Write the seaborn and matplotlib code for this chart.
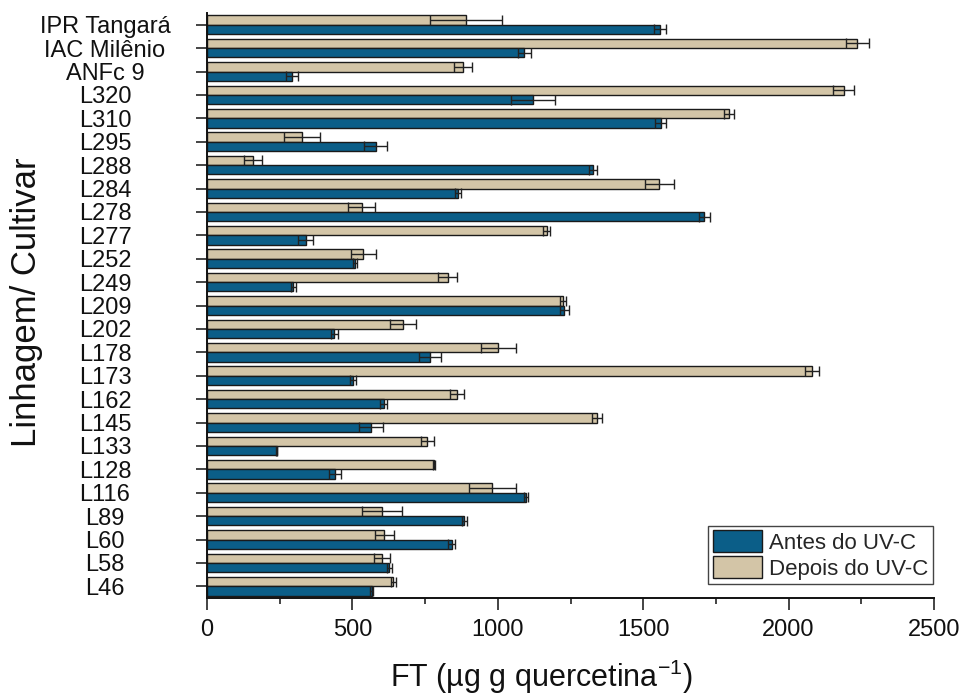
import matplotlib
matplotlib.use('Agg')
import matplotlib.pyplot as plt
import seaborn as sns
import pandas as pd
from matplotlib.ticker import MultipleLocator
from matplotlib.patches import Patch

# ---------------- data ----------------
categories = ['IPR Tangará', 'IAC Milênio', 'ANFc 9', 'L320', 'L310', 'L295', 'L288',
              'L284', 'L278', 'L277', 'L252', 'L249', 'L209', 'L202', 'L178', 'L173',
              'L162', 'L145', 'L133', 'L128', 'L116', 'L89', 'L60', 'L58', 'L46']
antes = [1558, 1091, 293, 1122, 1560, 580, 1326, 863, 1710, 340, 509, 297, 1229,
         438, 767, 501, 607, 564, 240, 440, 1096, 885, 841, 627, 566]
antes_sd = [20, 23, 21, 76, 18, 39, 14, 10, 18, 26, 7, 9, 16, 11, 37, 10, 13, 42,
            2, 21, 7, 8, 13, 9, 5]
depois = [891, 2236, 879, 2189, 1796, 328, 159, 1556, 532, 1168, 538, 828, 1225,
          675, 1002, 2082, 860, 1341, 758, 781, 981, 602, 610, 602, 641]
depois_sd = [125, 40, 31, 37, 17, 62, 31, 49, 46, 13, 44, 33, 10, 44, 60, 24, 23,
             17, 23, 4, 81, 70, 33, 27, 8]
series_names = ['Antes do UV-C', 'Depois do UV-C']
x_ticks = [0, 500, 1000, 1500, 2000, 2500]

ANT, DEP = series_names
blue = '#0b5e88'
tan = '#d3c5a7'

df = pd.DataFrame({
    'Linhagem': categories * 2,
    'FT': antes + depois,
    'Tratamento': [ANT] * len(categories) + [DEP] * len(categories),
})

# ---------------- style ----------------
sns.set_style('ticks')
plt.rcParams['font.family'] = ['Liberation Sans', 'DejaVu Sans']
plt.rcParams['mathtext.fontset'] = 'custom'
plt.rcParams['mathtext.rm'] = 'Liberation Sans'
plt.rcParams['mathtext.it'] = 'Liberation Sans:italic'
plt.rcParams['mathtext.bf'] = 'Liberation Sans:bold'

W, H = 963, 700
fig = plt.figure(figsize=(W / 100, H / 100), dpi=100)
ax = fig.add_axes([207 / W, 1 - 598 / H, 727 / W, 585 / H])

sns.barplot(data=df, y='Linhagem', x='FT', hue='Tratamento',
            hue_order=[DEP, ANT], order=categories,
            palette={ANT: blue, DEP: tan}, saturation=1, width=0.8,
            edgecolor='#1a1a1a', linewidth=1.0, errorbar=None,
            orient='h', legend=False, ax=ax)

# error bars placed on the bars drawn by seaborn
for cont, sds in zip(ax.containers, [depois_sd, antes_sd]):
    xs = [b.get_width() for b in cont]
    ys = [b.get_y() + b.get_height() / 2 for b in cont]
    ax.errorbar(xs, ys, xerr=sds, fmt='none', ecolor='#222222',
                elinewidth=1.0, capsize=3.4, capthick=1.0, zorder=3)

ax.set_xlim(0, 2500)
ax.set_ylim(len(categories) - 0.5, -0.5)
ax.set_xticks(x_ticks)
ax.set_xticklabels([str(t) for t in x_ticks])
ax.xaxis.set_minor_locator(MultipleLocator(250))

sns.despine(ax=ax)
for s in ['left', 'bottom']:
    ax.spines[s].set_linewidth(1.4)
    ax.spines[s].set_color('#111111')

ax.tick_params(axis='x', which='major', length=8.6, width=1.1, labelsize=17,
               pad=6.5, direction='out', colors='#111111')
ax.tick_params(axis='x', which='minor', length=4.3, width=1.1, direction='out',
               colors='#111111')
ax.tick_params(axis='y', which='major', length=7.9, width=1.1, labelsize=17,
               pad=65.5, direction='out', colors='#111111')
for lab in ax.get_yticklabels():
    lab.set_ha('center')

ax.set_ylabel('Linhagem/ Cultivar', fontsize=25, color='#111111')
ax.yaxis.set_label_coords((43 - 207) / 727, (598 - 302) / 585)
ax.set_xlabel(r'FT (µg g quercetina$^{-1}$)', fontsize=22, color='#111111')
ax.xaxis.set_label_coords((541 - 207) / 727, (598 - 658) / 585)

handles = [Patch(facecolor=blue, edgecolor='#1a1a1a', linewidth=1.0),
           Patch(facecolor=tan, edgecolor='#1a1a1a', linewidth=1.0)]
leg = ax.legend(handles, [ANT, DEP], loc='lower right',
                bbox_to_anchor=((933 - 207) / 727, (598 - 584) / 585),
                fontsize=16, frameon=True, fancybox=False, framealpha=1,
                edgecolor='#444444', borderpad=0.2, handlelength=2.2,
                handleheight=1.1, labelspacing=0.12, handletextpad=0.35,
                borderaxespad=0)
leg.get_frame().set_linewidth(1.0)

fig.savefig('out.png', dpi=100)
